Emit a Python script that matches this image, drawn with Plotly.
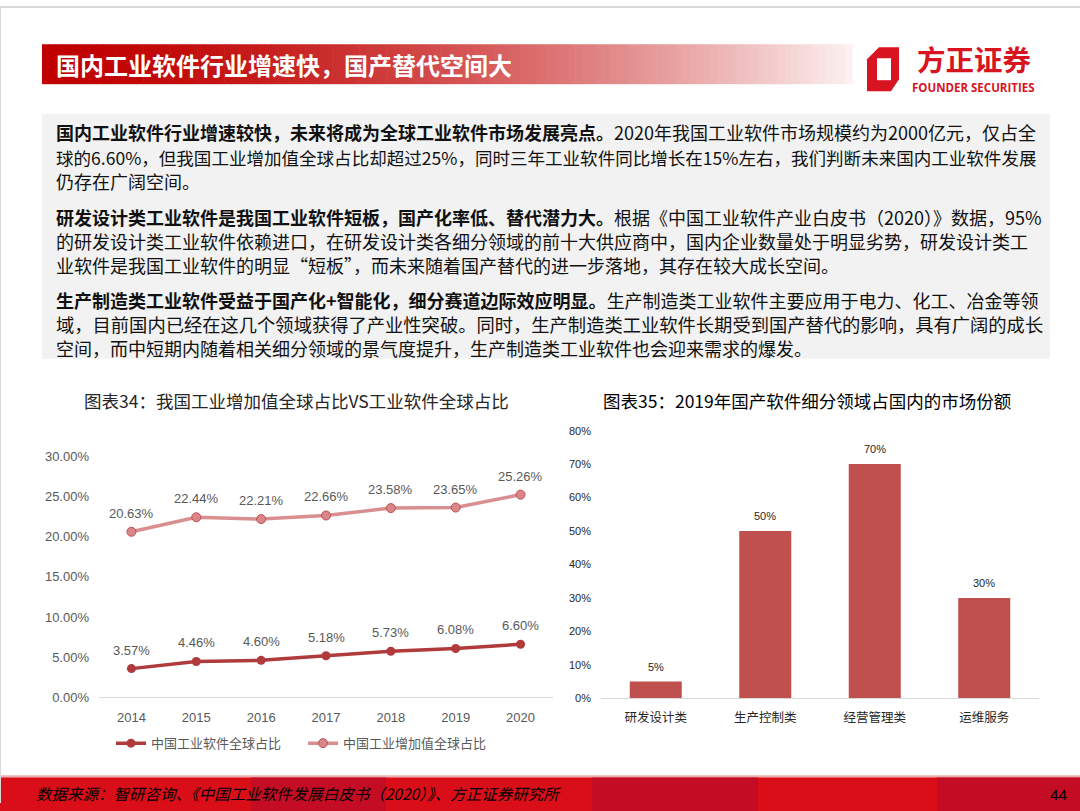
import plotly.graph_objects as go

W, H = 1080, 811

# ---------------- data ----------------
years = ["2014", "2015", "2016", "2017", "2018", "2019", "2020"]
software_share = [3.57, 4.46, 4.60, 5.18, 5.73, 6.08, 6.60]
industry_share = [20.63, 22.44, 22.21, 22.66, 23.58, 23.65, 25.26]
software_name = "中国工业软件全球占比"
industry_name = "中国工业增加值全球占比"
y1_ticks = [0, 5, 10, 15, 20, 25, 30]

segments = ["研发设计类", "生产控制类", "经营管理类", "运维服务"]
segment_share = [5, 50, 70, 30]
y2_ticks = [0, 10, 20, 30, 40, 50, 60, 70, 80]

page_title = "国内工业软件行业增速快，国产替代空间大"
chart1_title = "图表34：我国工业增加值全球占比VS工业软件全球占比"
chart2_title = "图表35：2019年国产软件细分领域占国内的市场份额"
source_text = "数据来源：智研咨询、《中国工业软件发展白皮书（2020）》、方正证券研究所"
page_no = "44"

body_lines = [
    "<b>国内工业软件行业增速较快，未来将成为全球工业软件市场发展亮点。</b>2020年我国工业软件市场规模约为2000亿元，仅占全",
    "球的6.60%，但我国工业增加值全球占比却超过25%，同时三年工业软件同比增长在15%左右，我们判断未来国内工业软件发展",
    "仍存在广阔空间。",
    "<b>研发设计类工业软件是我国工业软件短板，国产化率低、替代潜力大。</b>根据《中国工业软件产业白皮书（2020）》数据，95%",
    "的研发设计类工业软件依赖进口，在研发设计类各细分领域的前十大供应商中，国内企业数量处于明显劣势，研发设计类工",
    "业软件是我国工业软件的明显“短板”，而未来随着国产替代的进一步落地，其存在较大成长空间。",
    "<b>生产制造类工业软件受益于国产化+智能化，细分赛道边际效应明显。</b>生产制造类工业软件主要应用于电力、化工、冶金等领",
    "域，目前国内已经在这几个领域获得了产业性突破。同时，生产制造类工业软件长期受到国产替代的影响，具有广阔的成长",
    "空间，而中短期内随着相关细分领域的景气度提升，生产制造类工业软件也会迎来需求的爆发。",
]
body_y = [131, 156, 180, 216, 240, 264, 299, 323, 347]
body_size = [18, 17.55, 18, 18, 18, 18, 18, 18.3, 18]

# ---------------- helpers ----------------
# observed screen mapping: screen_y = 5.7 + 0.983 * figure_y  -> invert it
SY0, SYK = 5.7, 0.983

def px(x):
    return x / W

def py(y):
    return 1 - ((y - SY0) / SYK) / H

CJK = "Noto Sans CJK SC"
LAT = "Liberation Sans, Arial"
GREY = "#595959"
LINE1 = "#b03a3c"
LINE2 = "#d98e8f"
BAR = "#c0504d"
LOGO = "#d7141f"

fig = go.Figure()

# ---------- chart 1 : lines ----------
fig.add_trace(go.Scatter(
    x=years, y=software_share, name=software_name, mode="lines+markers",
    line=dict(color=LINE1, width=3.5), marker=dict(size=9, color=LINE1),
    xaxis="x", yaxis="y", hoverinfo="skip"))
fig.add_trace(go.Scatter(
    x=years, y=industry_share, name=industry_name, mode="lines+markers",
    line=dict(color=LINE2, width=3.5),
    marker=dict(size=9, color="#d9868a", line=dict(color="#c0504d", width=1)),
    xaxis="x", yaxis="y", hoverinfo="skip"))

# ---------- chart 2 : bars ----------
fig.add_trace(go.Bar(
    x=segments, y=segment_share, marker=dict(color=BAR, line=dict(width=0)),
    xaxis="x2", yaxis="y2", showlegend=False, hoverinfo="skip"))

annotations = []
# category axes take the category's serial index for annotations
for i, v in enumerate(software_share):
    annotations.append(dict(x=i, y=v, xref="x", yref="y", text=f"{v:.2f}%",
                            showarrow=False, yanchor="bottom", yshift=9,
                            font=dict(family=LAT, size=13, color=GREY)))
for i, v in enumerate(industry_share):
    annotations.append(dict(x=i, y=v, xref="x", yref="y", text=f"{v:.2f}%",
                            showarrow=False, yanchor="bottom", yshift=9,
                            font=dict(family=LAT, size=13, color=GREY)))
for i, v in enumerate(segment_share):
    annotations.append(dict(x=i, y=v, xref="x2", yref="y2", text=f"{v}%",
                            showarrow=False, yanchor="bottom", yshift=7,
                            font=dict(family=LAT, size=11, color="#262626")))

# chart titles
annotations.append(dict(x=px(296), y=py(400), xref="paper", yref="paper", text=chart1_title,
                        showarrow=False, xanchor="center", yanchor="middle",
                        font=dict(family=CJK, size=17.5, color="#262626")))
annotations.append(dict(x=px(807), y=py(400), xref="paper", yref="paper", text=chart2_title,
                        showarrow=False, xanchor="center", yanchor="middle",
                        font=dict(family=CJK, size=17.5, color="#000000")))

# page title
annotations.append(dict(x=px(54), y=py(63), xref="paper", yref="paper", text="<b>" + page_title + "</b>",
                        showarrow=False, xanchor="left", yanchor="middle",
                        font=dict(family=CJK, size=24, color="#ffffff")))

# body text
for t, yy, fs in zip(body_lines, body_y, body_size):
    annotations.append(dict(x=px(54), y=py(yy), xref="paper", yref="paper", text=t,
                            showarrow=False, xanchor="left", yanchor="middle",
                            font=dict(family=CJK, size=fs, color="#111111")))

# logo text
annotations.append(dict(x=px(974), y=py(57.5), xref="paper", yref="paper", text="<b>方正证券</b>",
                        showarrow=False, xanchor="center", yanchor="middle",
                        font=dict(family=CJK, size=28.5, color=LOGO)))
annotations.append(dict(x=px(973), y=py(86), xref="paper", yref="paper", text="<b>FOUNDER SECURITIES</b>",
                        showarrow=False, xanchor="center", yanchor="middle",
                        font=dict(family="Open Sans, Liberation Sans", size=11.5, color=LOGO)))

# footer
annotations.append(dict(x=px(34), y=py(793), xref="paper", yref="paper", text="<i>" + source_text + "</i>",
                        showarrow=False, xanchor="left", yanchor="middle",
                        font=dict(family=CJK, size=15.5, color="#000000")))
annotations.append(dict(x=px(1070), y=py(794), xref="paper", yref="paper", text=page_no,
                        showarrow=False, xanchor="right", yanchor="middle",
                        font=dict(family=LAT, size=15.5, color="#000000")))

# ---------------- shapes ----------------
shapes = []
# text box background
shapes.append(dict(type="rect", xref="paper", yref="paper", x0=px(42), x1=px(1050), y0=py(358), y1=py(113),
                   fillcolor="#f2f2f2", line=dict(width=0), layer="below"))
# title gradient band
n = 120
x_start, x_end = 42, 852
c0 = (192, 0, 0)
c1 = (252, 240, 240)
for i in range(n):
    t = i / (n - 1)
    tt = t ** 1.6
    c = tuple(int(c0[k] + (c1[k] - c0[k]) * tt) for k in range(3))
    xa = x_start + (x_end - x_start) * i / n
    xb = x_start + (x_end - x_start) * (i + 1) / n + 0.6
    shapes.append(dict(type="rect", xref="paper", yref="paper", x0=px(xa), x1=px(xb), y0=py(83), y1=py(43),
                       fillcolor=f"rgb({c[0]},{c[1]},{c[2]})", line=dict(width=0), layer="below"))
# logo mark
shapes.append(dict(type="path", xref="paper", yref="paper",
                   path=f"M {px(867)},{py(58)} L {px(879)},{py(46)} L {px(899)},{py(46)} L {px(899)},{py(78)} "
                        f"L {px(891)},{py(90)} L {px(867)},{py(90)} Z",
                   fillcolor=LOGO, line=dict(width=0)))
shapes.append(dict(type="path", xref="paper", yref="paper",
                   path=f"M {px(877)},{py(57)} L {px(891)},{py(57)} L {px(891)},{py(79)} L {px(877)},{py(79)} Z",
                   fillcolor="#ffffff", line=dict(width=0)))
# footer band
shapes.append(dict(type="rect", xref="paper", yref="paper", x0=0, x1=1, y0=-0.05, y1=py(777),
                   fillcolor="#d90e18", line=dict(width=0), layer="below"))
for a, b in [(251, 386), (592, 758), (937, 1080)]:
    shapes.append(dict(type="rect", xref="paper", yref="paper", x0=px(a), x1=px(b), y0=-0.05, y1=py(777),
                       fillcolor="#c40d24", line=dict(width=0), layer="below"))
shapes.append(dict(type="rect", xref="paper", yref="paper", x0=0, x1=1, y0=py(777), y1=py(775),
                   fillcolor="#e8b0b0", line=dict(width=0), layer="below"))
# page frame (top / left)
shapes.append(dict(type="line", xref="paper", yref="paper", x0=0, x1=1, y0=1, y1=1,
                   line=dict(color="#d9d9d9", width=2)))
shapes.append(dict(type="line", xref="paper", yref="paper", x0=0, x1=0, y0=0, y1=1,
                   line=dict(color="#d9d9d9", width=2)))

fig.update_layout(
    width=W, height=H,
    margin=dict(l=0, r=0, t=0, b=0),
    paper_bgcolor="#ffffff", plot_bgcolor="rgba(0,0,0,0)",
    showlegend=True,
    legend=dict(orientation="h", x=px(111), y=py(743), xanchor="left", yanchor="middle",
                font=dict(family=CJK, size=13, color=GREY), bgcolor="rgba(0,0,0,0)",
                itemwidth=30, tracegroupgap=0, entrywidth=147, entrywidthmode="pixels"),
    xaxis=dict(type="category", domain=[px(99), px(553)], anchor="y", range=[-0.5, len(years) - 0.5],
               showgrid=False, zeroline=False,
               showline=True, linecolor="#d9d9d9", linewidth=1, ticks="", ticklabelstandoff=8,
               tickfont=dict(family=LAT, size=13, color=GREY), fixedrange=True),
    yaxis=dict(domain=[py(697), py(456)], anchor="x", range=[0, 30], tickmode="array",
               tickvals=y1_ticks, ticktext=[f"{v:.2f}%" for v in y1_ticks],
               showgrid=False, zeroline=False, showline=False,
               ticklabelstandoff=9, tickfont=dict(family=LAT, size=13, color=GREY), fixedrange=True),
    xaxis2=dict(type="category", domain=[px(601), px(1039)], anchor="y2", range=[-0.5, len(segments) - 0.5],
                showgrid=False, zeroline=False,
                showline=True, linecolor="#d9d9d9", linewidth=1, ticks="", ticklabelstandoff=8,
                tickfont=dict(family=CJK, size=12.5, color="#262626"), fixedrange=True),
    yaxis2=dict(domain=[py(698), py(430)], anchor="x2", range=[0, 80], tickmode="array",
                tickvals=y2_ticks, ticktext=[f"{v}%" for v in y2_ticks],
                showgrid=False, zeroline=False, showline=False,
                ticklabelstandoff=9, tickfont=dict(family=LAT, size=11, color="#262626"), fixedrange=True),
    bargap=0.525,
    annotations=annotations,
    shapes=shapes,
)

post = (
    "document.documentElement.style.margin='0';document.documentElement.style.overflow='hidden';"
    "document.body.style.margin='0';document.body.style.padding='0';document.body.style.overflow='hidden';"
    "var g=document.querySelector('.plotly-graph-div');if(g){g.style.position='absolute';g.style.left='0px';g.style.top='0px';}"
)
fig.write_html("out.html", config={"displayModeBar": False}, post_script=post)
